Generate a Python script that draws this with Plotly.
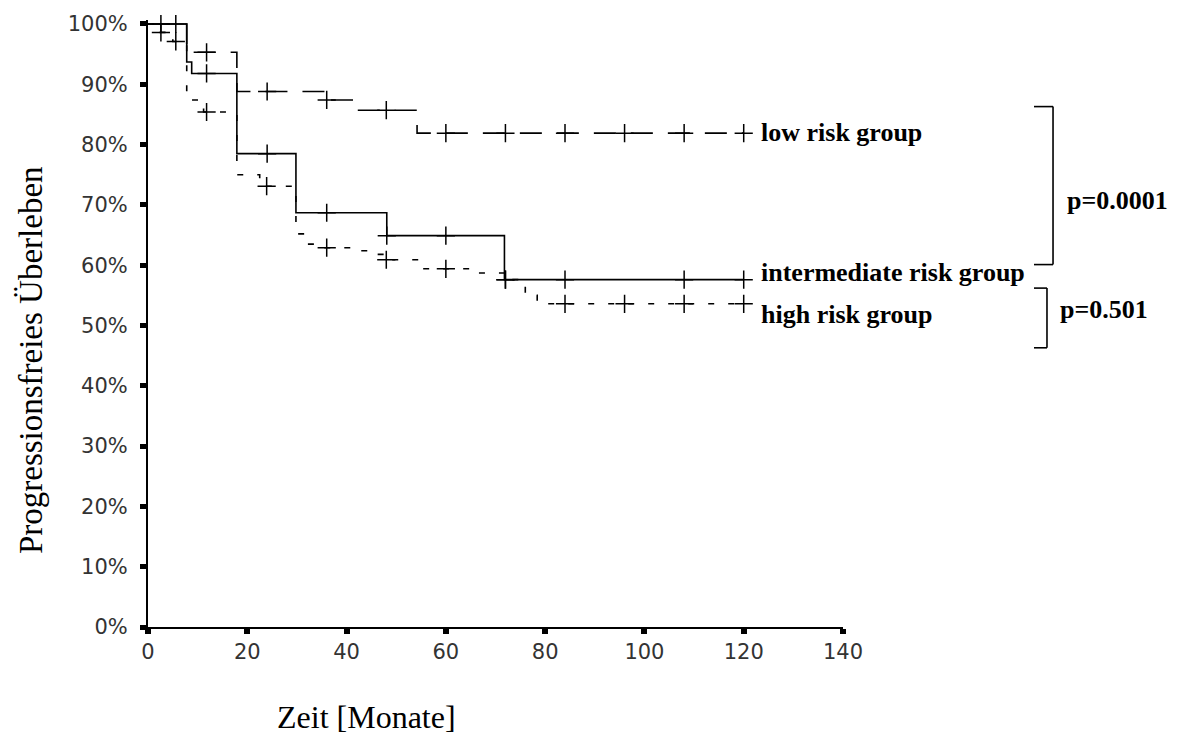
import plotly.graph_objects as go

# ---- data ----
low_t = [0, 7.8, 17.9, 35.7, 42.1, 54.2, 120]
low_s = [100, 95.3, 88.8, 87.4, 85.7, 81.9, 81.9]
low_cens_t = [2.6, 5.6, 11.8, 24, 36, 48, 60, 72, 84, 96, 108, 120]
low_cens_s = [100, 100, 95.3, 88.8, 87.4, 85.7, 81.9, 81.9, 81.9, 81.9, 81.9, 81.9]

mid_t = [0, 7.8, 8.8, 17.9, 29.8, 48.1, 71.8, 120]
mid_s = [100, 93.7, 91.8, 78.5, 68.7, 64.9, 57.6, 57.6]
mid_cens_t = [11.8, 24, 36, 48.1, 60, 72, 84, 108, 120]
mid_cens_s = [91.8, 78.5, 68.7, 64.9, 64.9, 57.6, 57.6, 57.6, 57.6]

high_t = [0, 1.5, 3.8, 4.4, 5.0, 7.8, 10.1, 11.2, 17.9, 22.5, 29.8, 31.8, 33.5,
          42.0, 45.0, 47.5, 54.5, 66.2, 71.8, 76.0, 78.4, 120]
high_s = [100, 98.6, 98.2, 97.7, 97.1, 87.4, 86.9, 85.4, 75.0, 73.1, 65.2, 63.5, 62.9,
          62.4, 61.8, 60.9, 59.4, 58.7, 57.6, 55.0, 53.6, 53.6]
high_cens_t = [2.6, 5.6, 11.8, 23.9, 36, 48, 60, 72, 84, 96, 108, 120]
high_cens_s = [98.6, 97.1, 85.4, 73.1, 62.9, 60.9, 59.4, 57.6, 53.6, 53.6, 53.6, 53.6]

y_ticks = [0, 10, 20, 30, 40, 50, 60, 70, 80, 90, 100]
x_ticks = [0, 20, 40, 60, 80, 100, 120, 140]

group_labels = ["low risk group", "intermediate risk group", "high risk group"]
label_y = [82.0, 58.8, 51.9]
p_labels = ["p=0.0001", "p=0.501"]

# ---- figure ----
fig = go.Figure()

def add_curve(t, s, ct, cs, dash):
    fig.add_trace(go.Scatter(x=t, y=s, mode="lines", line_shape="hv",
                             line=dict(color="black", width=1.6, dash=dash),
                             showlegend=False, hoverinfo="skip", cliponaxis=False))
    fig.add_trace(go.Scatter(x=ct, y=cs, mode="markers",
                             marker=dict(symbol="cross-thin", size=13, color="black",
                                         line=dict(width=1.5, color="black")),
                             showlegend=False, hoverinfo="skip", cliponaxis=False))

add_curve(low_t, low_s, low_cens_t, low_cens_s, "22px,15px")
add_curve(mid_t, mid_s, mid_cens_t, mid_cens_s, "solid")
add_curve(high_t, high_s, high_cens_t, high_cens_s, "6px,14px")

serif_bold = dict(family="Liberation Serif", size=26, color="black")
annotations = []
for txt, yy in zip(group_labels, label_y):
    annotations.append(dict(x=123.0, y=yy, xref="x", yref="y", text="<b>%s</b>" % txt,
                            showarrow=False, xanchor="left", yanchor="middle",
                            font=serif_bold))
annotations.append(dict(x=1.3194, y=70.8, xref="paper", yref="y", text="<b>%s</b>" % p_labels[0],
                        showarrow=False, xanchor="left", yanchor="middle", font=serif_bold))
annotations.append(dict(x=1.3094, y=52.6, xref="paper", yref="y", text="<b>%s</b>" % p_labels[1],
                        showarrow=False, xanchor="left", yanchor="middle", font=serif_bold))
annotations.append(dict(x=-0.168, y=44.3, xref="paper", yref="y", text="Progressionsfreies Überleben",
                        textangle=-90, showarrow=False, xanchor="center", yanchor="middle",
                        font=dict(family="Liberation Serif", size=33, color="black")))
annotations.append(dict(x=0.315, y=-0.149, xref="paper", yref="paper", text="Zeit [Monate]",
                        showarrow=False, xanchor="center", yanchor="middle",
                        font=dict(family="Liberation Serif", size=32, color="black")))

line_style = dict(color="black", width=1.6)
shapes = [
    # upper bracket
    dict(type="line", xref="paper", yref="y", x0=1.2748, x1=1.3022, y0=86.3, y1=86.3, line=line_style),
    dict(type="line", xref="paper", yref="y", x0=1.3022, x1=1.3022, y0=86.3, y1=60.1, line=line_style),
    dict(type="line", xref="paper", yref="y", x0=1.2748, x1=1.3022, y0=60.1, y1=60.1, line=line_style),
    # lower bracket
    dict(type="line", xref="paper", yref="y", x0=1.2748, x1=1.2935, y0=56.2, y1=56.2, line=line_style),
    dict(type="line", xref="paper", yref="y", x0=1.2935, x1=1.2935, y0=56.2, y1=46.3, line=line_style),
    dict(type="line", xref="paper", yref="y", x0=1.2748, x1=1.2935, y0=46.3, y1=46.3, line=line_style),
]

tick_font = dict(family="DejaVu Sans", size=21, color="#333")
fig.update_layout(
    width=1178, height=742,
    margin=dict(l=148, r=335, t=16, b=115, pad=0),
    paper_bgcolor="white", plot_bgcolor="white",
    annotations=annotations, shapes=shapes,
    xaxis=dict(range=[0, 140], tickvals=x_ticks, ticktext=[str(v) for v in x_ticks],
               showgrid=False, zeroline=False, showline=True, linecolor="black", linewidth=1.5,
               ticks="outside", ticklen=5, tickwidth=6, tickcolor="black",
               tickfont=tick_font, ticklabelstandoff=0),
    yaxis=dict(range=[0, 100.66], tickvals=y_ticks, ticktext=["%d%%" % v for v in y_ticks],
               showgrid=False, zeroline=False, showline=True, linecolor="black", linewidth=2,
               ticks="outside", ticklen=6, tickwidth=5, tickcolor="black",
               tickfont=tick_font, ticklabelstandoff=8),
)

fig.write_html("out.html")
